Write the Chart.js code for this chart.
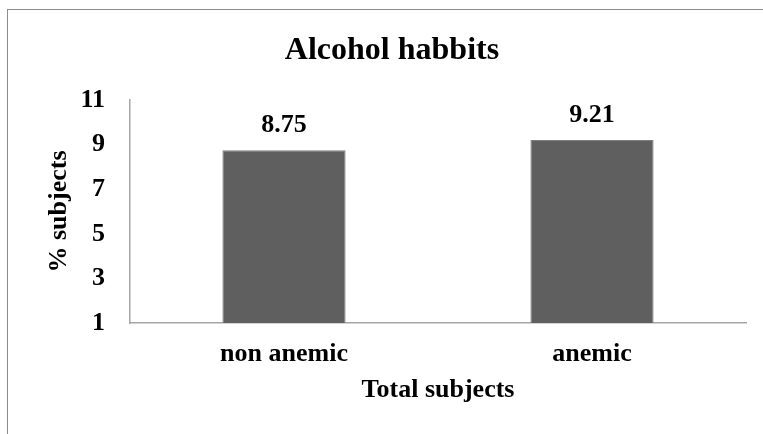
<!DOCTYPE html>
<html>
<head>
<meta charset="utf-8">
<script src="https://cdn.jsdelivr.net/npm/chart.js@4.4.1/dist/chart.umd.min.js"></script>
<style>
  body { margin: 0; background: #fff; overflow: hidden; }
  #marco {
    position: absolute;
    left: 7px;
    top: 9px;
    border: 1px solid #8c8c8c;
    width: 768px;
    height: 440px;
  }
  #grafica { display: block; }
</style>
</head>
<body>
<div id="marco"><canvas id="grafica" width="768" height="440"></canvas></div>
<script>
// datos
const categorias = ['non anemic', 'anemic'];
const porcentajes = [8.75, 9.21];
const ticksY = [1, 3, 5, 7, 9, 11];

const fuente = '"Liberation Serif", "Times New Roman", serif';

// etiquetas de valor encima de cada barra
const etiquetasBarras = {
    id: 'etiquetasBarras',
    afterDatasetsDraw(chart) {
        const ctx = chart.ctx;
        const meta = chart.getDatasetMeta(0);
        ctx.save();
        ctx.font = 'bold 26px ' + fuente;
        ctx.fillStyle = '#000';
        ctx.textAlign = 'center';
        ctx.textBaseline = 'alphabetic';
        meta.data.forEach((barra, i) => {
            ctx.fillText(porcentajes[i].toFixed(2), barra.x, barra.y - 18);
        });
        ctx.restore();
    }
};

const ctx = document.getElementById('grafica').getContext('2d');

new Chart(ctx, {
    type: 'bar',
    data: {
        labels: categorias,
        datasets: [{
            data: porcentajes,
            backgroundColor: '#5f5f5f',
            borderColor: '#7f7f7f',
            borderWidth: 1,
            barPercentage: 0.4,
            categoryPercentage: 1
        }]
    },
    options: {
        responsive: false,
        devicePixelRatio: 1,
        animation: false,
        layout: { padding: { left: 30, right: 30, top: 0, bottom: 0 } },
        plugins: {
            legend: { display: false },
            tooltip: { enabled: false },
            title: {
                display: true,
                text: 'Alcohol habbits',
                color: '#000',
                font: { family: fuente, size: 32, weight: 'bold' },
                padding: { top: 22, bottom: 29.6 }
            }
        },
        scales: {
            x: {
                grid: { display: false, drawTicks: false },
                border: { display: true, color: '#a6a6a6', width: 1.5 },
                ticks: {
                    color: '#000',
                    padding: 16,
                    font: { family: fuente, size: 26, weight: 'bold' }
                },
                title: {
                    display: true,
                    text: 'Total subjects',
                    color: '#000',
                    font: { family: fuente, size: 26, weight: 'bold' },
                    padding: { top: 0, bottom: 44 }
                },
                afterFit(escala) { escala.height = 127; }
            },
            y: {
                min: ticksY[0],
                max: ticksY[ticksY.length - 1],
                grid: { display: false, drawTicks: false },
                border: { display: true, color: '#a6a6a6', width: 1.5 },
                afterBuildTicks(escala) {
                    escala.ticks = ticksY.map(v => ({ value: v }));
                },
                ticks: {
                    color: '#000',
                    padding: 25,
                    font: { family: fuente, size: 26, weight: 'bold' }
                },
                title: {
                    display: true,
                    text: '% subjects',
                    color: '#000',
                    font: { family: fuente, size: 26, weight: 'bold' },
                    padding: { top: 6, bottom: 0 }
                },
                afterFit(escala) { escala.width = 92; }
            }
        }
    },
    plugins: [etiquetasBarras]
});
</script>
</body>
</html>
